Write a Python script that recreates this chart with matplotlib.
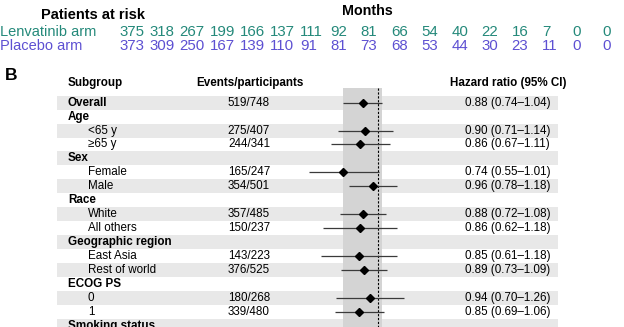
import numpy as np
import matplotlib
matplotlib.use("Agg")
import matplotlib.pyplot as plt

plt.rcParams['font.family'] = ['Liberation Sans', 'DejaVu Sans']

# patients at risk
lenva_risk = [375, 318, 267, 199, 166, 137, 111, 92, 81, 66, 54, 40, 22, 16, 7, 0, 0]
placebo_risk = [373, 309, 250, 167, 139, 110, 91, 81, 73, 68, 53, 44, 30, 23, 11, 0, 0]

# forest plot rows
subgroups = ["Overall", "Age", "<65 y", "\u226565 y", "Sex", "Female", "Male",
             "Race", "White", "All others", "Geographic region", "East Asia",
             "Rest of world", "ECOG PS", "0", "1", "Smoking status"]
is_header = [True, True, False, False, True, False, False, True, False, False,
             True, False, False, True, False, False, True]
events = ["519/748", "", "275/407", "244/341", "", "165/247", "354/501", "",
          "357/485", "150/237", "", "143/223", "376/525", "", "180/268", "339/480", ""]
hr = [0.88, None, 0.90, 0.86, None, 0.74, 0.96, None, 0.88, 0.86, None, 0.85, 0.89,
      None, 0.94, 0.85, None]
hr_lo = [0.74, None, 0.71, 0.67, None, 0.55, 0.78, None, 0.72, 0.62, None, 0.61, 0.73,
         None, 0.70, 0.69, None]
hr_hi = [1.04, None, 1.14, 1.11, None, 1.01, 1.18, None, 1.08, 1.18, None, 1.18, 1.09,
         None, 1.26, 1.06, None]

teal = "#24897a"
purple = "#5d50d2"
W, H = 624, 327

fig = plt.figure(figsize=(W / 100, H / 100), dpi=100)
ax = fig.add_axes([0, 0, 1, 1])
ax.set_xlim(0, W)
ax.set_ylim(H, 0)
ax.axis('off')

# --- patients at risk ---
ax.text(41, 15, "Patients at risk", fontsize=10.5, fontweight='bold', va='center')
ax.text(367.5, 11, "Months", fontsize=10.3, fontweight='bold', va='center', ha='center')
ax.text(0, 32, "Lenvatinib arm", fontsize=10.5, color=teal, va='center')
ax.text(0, 46, "Placebo arm", fontsize=10.5, color=purple, va='center')
for i, (a, b) in enumerate(zip(lenva_risk, placebo_risk)):
    x = 119 + 30.2 * i
    ax.text(x, 32, str(a), fontsize=10.8, color=teal, va='center')
    ax.text(x, 46, str(b), fontsize=10.8, color=purple, va='center')

# --- panel B ---
ax.text(5, 76, "B", fontsize=12.5, fontweight='bold', va='center')
fs = 8.4
ax.text(68, 83, "Subgroup", fontsize=fs, fontweight='bold', va='center')
ax.text(250, 83, "Events/participants", fontsize=fs, fontweight='bold', va='center', ha='center')
ax.text(508.5, 83, "Hazard ratio (95% CI)", fontsize=fs, fontweight='bold', va='center', ha='center')

y0, step = 102.7, 13.93
ys = y0 + step * np.arange(len(subgroups))
for i, y in enumerate(ys):
    if i % 2 == 0:
        ax.barh(y, 558 - 57, left=57, height=step, color='#e8e8e8', lw=0)
    if is_header[i]:
        ax.text(68, y, subgroups[i], fontsize=fs, fontweight='bold', va='center')
    else:
        ax.text(88, y, subgroups[i], fontsize=fs, va='center')
    if events[i]:
        ax.text(249, y, events[i], fontsize=fs, va='center', ha='center')
    if hr[i] is not None:
        ax.text(465, y, "%.2f (%.2f\u2013%.2f)" % (hr[i], hr_lo[i], hr_hi[i]),
                fontsize=fs, va='center')

# forest axes, log scale
px0, px1, px_one, px_per_ln = 290, 420, 377.5, 115.0
fa = fig.add_axes([px0 / W, 0, (px1 - px0) / W, 1])
fa.set_xscale('log')
fa.set_xlim(np.exp((px0 - px_one) / px_per_ln), np.exp((px1 - px_one) / px_per_ln))
fa.set_ylim(H, 0)
fa.axis('off')
band_top = (H - 88) / H
fa.axvspan(hr_lo[0], hr_hi[0], ymin=0, ymax=band_top, color='#d4d4d4', lw=0, zorder=0)
fa.vlines(1.0, 88, H, colors='black', linestyles=(0, (2, 1.5)), lw=0.8, zorder=1)
for i, y in enumerate(ys):
    if hr[i] is None:
        continue
    fa.hlines(y, hr_lo[i], hr_hi[i], colors='#3a3a3a', lw=0.9, zorder=2)
    fa.plot(hr[i], y, marker='D', ms=3.9, color='black', zorder=3)

fig.savefig("out.png", dpi=100)
